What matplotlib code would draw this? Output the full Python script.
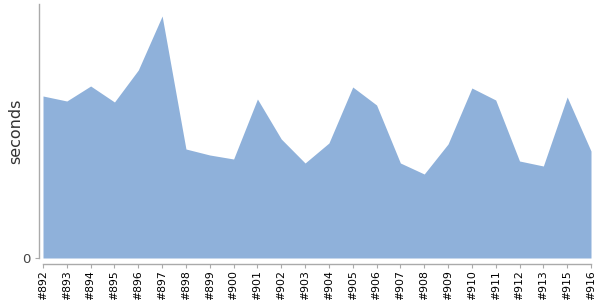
import matplotlib
matplotlib.use("Agg")
import matplotlib.pyplot as plt
import numpy as np

plt.rcParams["font.family"] = ["DejaVu Sans"]

builds = ["#892", "#893", "#894", "#895", "#896", "#897", "#898", "#899", "#900",
          "#901", "#902", "#903", "#904", "#905", "#906", "#907", "#908", "#909",
          "#910", "#911", "#912", "#913", "#915", "#916"]
seconds = [162, 157, 172, 156, 188, 242, 109, 103, 99, 159, 119, 95, 115, 171,
           153, 95, 84, 114, 170, 158, 97, 92, 161, 107]

fig = plt.figure(figsize=(6, 3), dpi=100)
ax = fig.add_axes([43/600, 42/300, 548/600, 254/300])
x = np.arange(len(builds))
ax.fill_between(x, 0, seconds, color="#8fb1da", linewidth=0)
ax.set_xlim(0, len(builds) - 1)
ax.set_ylim(0, 254)
ax.set_xticks(x, builds)
ax.set_yticks([0], ["0"])
ax.set_ylabel("seconds", fontsize=11.5, color="#333333", labelpad=-1)
for s in ["top", "right"]:
    ax.spines[s].set_visible(False)
ax.spines["left"].set_position(("outward", 3))
ax.spines["bottom"].set_position(("outward", 4))
for s in ["left", "bottom"]:
    ax.spines[s].set_color("#aaaaaa")
    ax.spines[s].set_linewidth(1)
ax.tick_params(axis="x", length=3, color="#aaaaaa", pad=1.5,
               labelsize=7.8, labelcolor="black", labelrotation=90)
ax.tick_params(axis="y", length=3, color="#aaaaaa", pad=3,
               labelsize=9.5, labelcolor="#444444")
fig.savefig("out.png", dpi=100)
